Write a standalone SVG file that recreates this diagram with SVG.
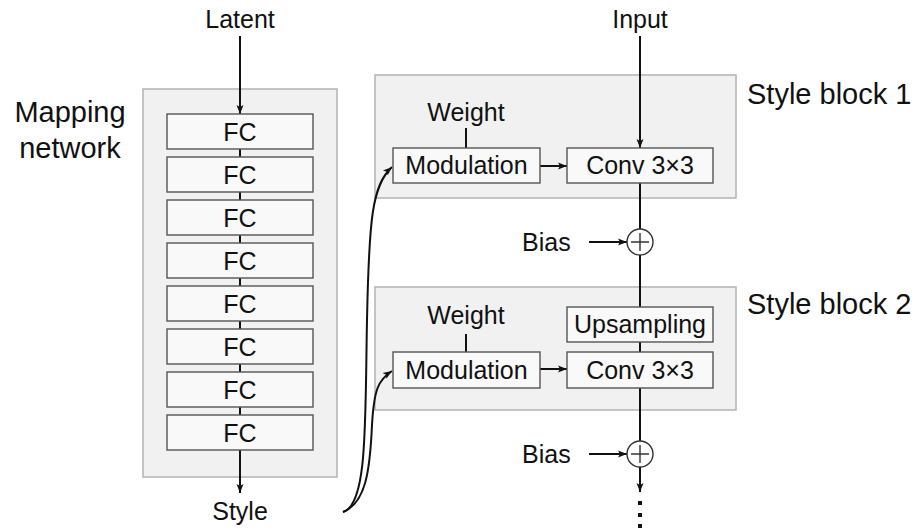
<svg xmlns="http://www.w3.org/2000/svg" width="922" height="528" viewBox="0 0 922 528">
<style>
text{font-family:"Liberation Sans",Arial,sans-serif;fill:#111;}
.s{font-size:25px;}
.b{font-size:29px;}
.c{text-anchor:middle;}
.outer{fill:#f1f1f1;stroke:#b3b3b3;stroke-width:1.5;}
.box{fill:#f9f9f9;stroke:#555;stroke-width:1.4;}
.ln{fill:none;stroke:#111;stroke-width:2;}
.arr{marker-end:url(#ah);}
</style>
<defs>
<marker id="ah" markerWidth="10" markerHeight="8" refX="9" refY="4" orient="auto" markerUnits="userSpaceOnUse">
<path d="M0,0.5 L9,4 L0,7.5 L2,4 Z" fill="#111"/>
</marker>
</defs>
<rect width="922" height="528" fill="#fff"/>
<g id="mapping-network">
<rect class="outer" x="143" y="89" width="194" height="388"/>
<text class="b" x="70" y="122" text-anchor="middle">Mapping</text>
<text class="b" x="70" y="158" text-anchor="middle">network</text>
</g>
<g id="style-block-1">
<rect class="outer" x="375" y="75" width="361" height="123"/>
<text class="b" x="747" y="104">Style block 1</text>
</g>
<g id="style-block-2">
<rect class="outer" x="375" y="287" width="361" height="123"/>
<text class="b" x="747" y="314">Style block 2</text>
</g>
<g id="connectors">
<line class="ln arr" x1="240" y1="36" x2="240" y2="114"/>
<line class="ln" x1="240" y1="149" x2="240" y2="157"/>
<line class="ln" x1="240" y1="192" x2="240" y2="200"/>
<line class="ln" x1="240" y1="235" x2="240" y2="243"/>
<line class="ln" x1="240" y1="278" x2="240" y2="286"/>
<line class="ln" x1="240" y1="321" x2="240" y2="329"/>
<line class="ln" x1="240" y1="364" x2="240" y2="372"/>
<line class="ln" x1="240" y1="407" x2="240" y2="415"/>
<line class="ln arr" x1="240" y1="450" x2="240" y2="493"/>
<line class="ln arr" x1="640" y1="36" x2="640" y2="148"/>
<line class="ln" x1="466" y1="128" x2="466" y2="148"/>
<line class="ln arr" x1="540" y1="166" x2="567" y2="166"/>
<line class="ln" x1="640" y1="183" x2="640" y2="229"/>
<line class="ln arr" x1="589" y1="242" x2="627" y2="242"/>
<line class="ln" x1="640" y1="255" x2="640" y2="307"/>
<line class="ln" x1="640" y1="342" x2="640" y2="352"/>
<line class="ln" x1="466" y1="334" x2="466" y2="352"/>
<line class="ln arr" x1="540" y1="369" x2="567" y2="369"/>
<line class="ln" x1="640" y1="388" x2="640" y2="441"/>
<line class="ln arr" x1="589" y1="454" x2="627" y2="454"/>
<line class="ln arr" x1="640" y1="467" x2="640" y2="492"/>
<path class="ln arr" d="M343,512 C368,505 365,420 367,320 C369,220 372,185 392,167"/>
<path class="ln arr" d="M343,512 C366,503 370,470 372,425 C374,390 378,380 392,371"/>
</g>
<g id="latent"><text class="s c" x="240" y="28">Latent</text></g>
<g id="input"><text class="s c" x="640" y="28">Input</text></g>
<g id="style"><text class="s c" x="240" y="520">Style</text></g>
<g id="fc1"><rect class="box" x="167" y="114" width="146" height="35"/><text class="s c" x="240" y="140.5">FC</text></g>
<g id="fc2"><rect class="box" x="167" y="157" width="146" height="35"/><text class="s c" x="240" y="183.5">FC</text></g>
<g id="fc3"><rect class="box" x="167" y="200" width="146" height="35"/><text class="s c" x="240" y="226.5">FC</text></g>
<g id="fc4"><rect class="box" x="167" y="243" width="146" height="35"/><text class="s c" x="240" y="269.5">FC</text></g>
<g id="fc5"><rect class="box" x="167" y="286" width="146" height="35"/><text class="s c" x="240" y="312.5">FC</text></g>
<g id="fc6"><rect class="box" x="167" y="329" width="146" height="35"/><text class="s c" x="240" y="355.5">FC</text></g>
<g id="fc7"><rect class="box" x="167" y="372" width="146" height="35"/><text class="s c" x="240" y="398.5">FC</text></g>
<g id="fc8"><rect class="box" x="167" y="415" width="146" height="35"/><text class="s c" x="240" y="441.5">FC</text></g>
<g id="weight1"><text class="s c" x="466" y="121">Weight</text></g>
<g id="modulation1"><rect class="box" x="393" y="148" width="147" height="35"/><text class="s c" x="466.5" y="174">Modulation</text></g>
<g id="conv1"><rect class="box" x="567" y="148" width="146" height="35"/><text class="s c" x="640" y="174">Conv 3×3</text></g>
<g id="bias1"><text class="s" x="522" y="251">Bias</text></g>
<g id="add1"><circle cx="640" cy="242" r="13" fill="#fff" stroke="#333" stroke-width="1.4"/><path d="M631,242 H649 M640,233 V251" stroke="#333" stroke-width="1.4"/></g>
<g id="weight2"><text class="s c" x="466" y="324">Weight</text></g>
<g id="upsampling"><rect class="box" x="567" y="307" width="146" height="35"/><text class="s c" x="640" y="333">Upsampling</text></g>
<g id="modulation2"><rect class="box" x="393" y="352" width="147" height="36"/><text class="s c" x="466.5" y="378.5">Modulation</text></g>
<g id="conv2"><rect class="box" x="567" y="352" width="146" height="36"/><text class="s c" x="640" y="378.5">Conv 3×3</text></g>
<g id="bias2"><text class="s" x="522" y="463">Bias</text></g>
<g id="add2"><circle cx="640" cy="454" r="13" fill="#fff" stroke="#333" stroke-width="1.4"/><path d="M631,454 H649 M640,445 V463" stroke="#333" stroke-width="1.4"/></g>
<g id="ellipsis" fill="#111"><rect x="638" y="501" width="4" height="4"/><rect x="638" y="513" width="4" height="4"/><rect x="638" y="524" width="4" height="4"/></g>
</svg>
